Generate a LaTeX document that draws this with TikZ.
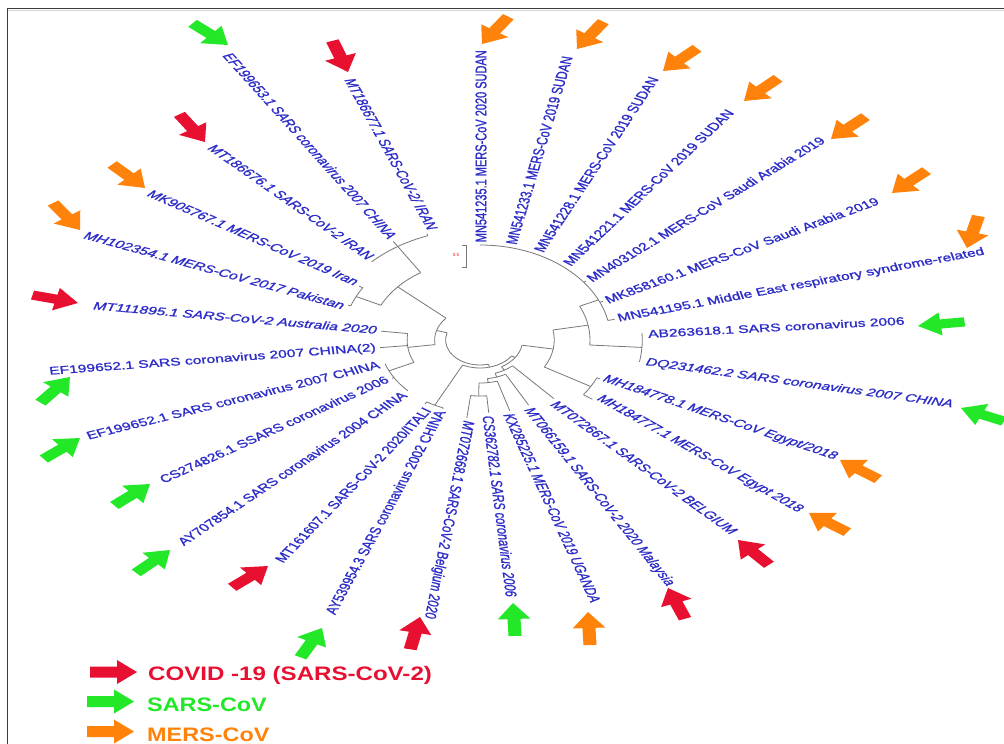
\documentclass[tikz,border=0pt]{standalone}
\usepackage{fontspec}
\setmainfont{Liberation Sans}
\newfontfamily\labfont[FakeBold=1.2]{Liberation Sans}
\definecolor{labblue}{RGB}{45,45,200}
\definecolor{ared}{RGB}{232,16,48}
\definecolor{agreen}{RGB}{34,232,40}
\definecolor{aorange}{RGB}{255,130,10}
\definecolor{brgray}{RGB}{120,120,120}
\definecolor{frame}{RGB}{60,60,60}
% block arrow, drawn with the same horizontal stretch as the picture:
% colour, tail x, tail y, tip x, tip y (pixel coordinates, y down)
\newcommand\barrow[5]{%
  \pgfmathsetmacro\bdx{((#4)-(#2))/1.42}%
  \pgfmathsetmacro\bdy{(#3)-(#5)}%
  \pgfmathsetmacro\bang{atan2(\bdy,\bdx)}%
  \fill[#1, shift={(#4,-#5)}, xscale=1.42, rotate=\bang] (0,0) -- (-16,11.5) -- (-16,4.6) -- (-33,4.6) -- (-33,-4.6) -- (-16,-4.6) -- (-16,-11.5) -- cycle;}
% radial branch: name, angle, inner radius, outer radius
\newcommand\tbranch[4]{\coordinate (#1-a) at (#2:#3); \coordinate (#1-b) at (#2:#4); \draw[br] (#1-a) -- (#1-b);}
% arc of a clade: name, start angle, end angle, radius
\newcommand\tarc[4]{\coordinate (#1) at (#2:#4); \draw[br] (#1) arc[start angle=#2, end angle=#3, radius=#4];}
\begin{document}
\begin{tikzpicture}[x=1pt,y=1pt,
  br/.style={draw=brgray, line width=0.8pt},
  lab/.style={text=labblue, inner sep=0.6pt, xscale=1.42, font=\labfont\fontsize{11}{13}\selectfont},
  labi/.style={text=labblue, inner sep=0.6pt, xscale=1.42, font=\labfont\fontsize{11}{13}\selectfont\itshape},
  legtext/.style={anchor=west, inner sep=0pt, font=\fontsize{19.5}{22}\selectfont\bfseries}]
\useasboundingbox (0,0) rectangle (1004,-744);
\fill[white] (0,0) rectangle (1004,-744);
% frame
\draw[frame, line width=1.5pt] (7.5,-744) -- (7.5,-8.5) -- (1004,-8.5);
\draw[gray!35, line width=0.8pt] (8.3,-10.3) -- (1004,-10.3);

\begin{scope}[shift={(480,-340)}, xscale=1.375]
  % root and inner clades
  \tarc{root}{163.2}{284.3}{25}
  \tbranch{n1}{163.2}{25}{33}
  \tarc{n1arc}{138.4}{188}{33}
  \tbranch{n3}{284.3}{25}{28}
  \tarc{n3arc}{243.25}{325.4}{28}
  \tbranch{n2}{325.4}{28}{31}
  \tarc{n2arc}{300.4}{350.35}{31}
  % right clade
  \tbranch{y}{350.35}{31}{54}
  \tarc{yarc}{330}{370.7}{54}
  \tbranch{x}{10.7}{54}{80}
  \tarc{xarc}{-3.6}{25}{80}
  \tbranch{mers}{25}{80}{95}
  \tarc{mersarc}{11.9}{90}{95}
  \tbranch{t4}{37.4}{95}{97}
  \tbranch{t5}{23.4}{95}{97.5}
  \tbranch{t6}{11.9}{95}{100}
  \tbranch{abdq}{-3.6}{80}{118}
  \tarc{abdqarc}{-10.7}{3.5}{118}
  \tbranch{mh}{-30}{54}{93}
  \tarc{mharc}{-36}{-24}{93}
  \tbranch{t9}{-24}{93}{95.5}
  \tbranch{t10}{-36}{93}{101}
  % bottom ladder
  \tbranch{p1}{-59.6}{31}{35}
  \tarc{p1arc}{-71.75}{-47.5}{35}
  \tbranch{t11}{-47.5}{35}{79.5}
  \tbranch{p2}{-71.75}{35}{39}
  \tarc{p2arc}{-82}{-61.5}{39}
  \tbranch{t12}{-61.5}{39}{74}
  \tbranch{p3}{-82}{39}{43}
  \tarc{p3arc}{-91}{-73}{43}
  \tbranch{t13}{-73}{43}{74}
  \tbranch{p4}{-91}{43}{56}
  \tarc{p4arc}{-97}{-85}{56}
  \tbranch{t14}{-85}{56}{73}
  \tbranch{t15}{-97}{56}{78.5}
  % AY539954 / MT161607 pair
  \tbranch{ay}{243.25}{28}{73}
  \tarc{ayarc}{238}{248.5}{73}
  \tbranch{t17}{238}{73}{75.5}
  \tbranch{t16}{248.5}{73}{74}
  % left clade
  \tbranch{l}{188}{33}{53}
  \tarc{larc}{173}{205}{53}
  \tbranch{t22}{173}{53}{72.5}
  \tbranch{t21}{186}{53}{73}
  \tbranch{tri}{205}{53}{73}
  \tarc{triarc}{199}{224}{73}
  \tbranch{t19}{211}{73}{74.5}
  % upper left clade
  \tbranch{ul}{138.4}{33}{80}
  \tarc{ularc}{122.6}{154.25}{80}
  \tbranch{pi}{154.25}{80}{100}
  \tarc{piarc}{148.5}{160}{100}
  \tbranch{t23}{160}{100}{102}
  \tbranch{t24}{148.5}{100}{103}
  \tbranch{tt}{122.6}{80}{111}
  \tarc{ttarc}{110}{135.2}{111}
  \tbranch{t26}{122.6}{111}{117}
  \tbranch{t27}{110}{111}{113}
\end{scope}

% labels, right half
\node[lab, anchor=west, rotate=90] (l0) at (481,-243) {MN541235.1 MERS-CoV 2020 SUDAN};
\node[lab, anchor=west, rotate=78.1] (l1) at (511,-245) {MN541233.1 MERS-CoV 2019 SUDAN};
\node[lab, anchor=west, rotate=64.9] (l2) at (538,-252) {MN541228.1 MERS-CoV 2019 SUDAN};
\node[lab, anchor=west, rotate=53.1] (l3) at (566,-265) {MN541221.1 MERS-CoV 2019 SUDAN};
\node[lab, anchor=west, rotate=40.5] (l4) at (588,-280) {MN403102.1 MERS-CoV Saudi Arabia 2019};
\node[lab, anchor=west, rotate=27.6] (l5) at (605,-300.7) {MK858160.1 MERS-CoV Saudi Arabia 2019};
\node[lab, anchor=west, rotate=14.6] (l6) at (617,-319) {MN541195.1 Middle East respiratory syndrome-related};
\node[lab, anchor=west, rotate=4.2] (l7) at (647,-334) {AB263618.1 SARS coronavirus 2006};
\node[labi, anchor=west, rotate=-11.1] (l8) at (645,-362) {DQ231462.2 SARS coronavirus 2007 CHINA};
\node[labi, anchor=west, rotate=-25.7] (l9) at (603,-378) {MH184778.1 MERS-CoV Egypt/2018};
\node[labi, anchor=west, rotate=-38.5] (l10) at (598,-397) {MH184777.1 MERS-CoV Egypt 2018};
\node[labi, anchor=west, rotate=-45.6] (l11) at (553,-402) {MT072667.1 SARS-CoV-2 BELGIUM};
\node[labi, anchor=west, rotate=-60.3] (l12) at (527,-408) {MT066159.1 SARS-CoV-2 2020 Malaysia};
\node[labi, anchor=west, rotate=-71.9] (l13) at (508,-413) {KX285225.1 MERS-CoV 2019 UGANDA};
\node[labi, anchor=west, rotate=-84.8] (l14) at (488,-415) {CS362782.1 SARS coronavirus 2006};
\node[labi, anchor=west, rotate=-97.9] (l15) at (468,-420) {MT072668.1 SARS-CoV-2 Belgium 2020};
% labels, left half
\node[lab, anchor=east, rotate=69] (l16) at (441,-410) {AY539954.3 SARS coronavirus 2002 CHINA};
\node[lab, anchor=east, rotate=55.5] (l17) at (428,-408) {MT161607.1 SARS-CoV-2 2020/ITALI};
\node[lab, anchor=east, rotate=43.5] (l18) at (405,-393) {AY707854.1 SARS coronavirus 2004 CHINA};
\node[lab, anchor=east, rotate=32.6] (l19) at (388,-378) {CS274826.1 SSARS coronavirus 2006};
\node[lab, anchor=east, rotate=19.2] (l20) at (380,-364) {EF199652.1 SARS coronavirus 2007 CHINA};
\node[lab, anchor=east, rotate=5.9] (l21) at (377,-348) {EF199652.1 SARS coronavirus 2007 CHINA(2)};
\node[labi, anchor=east, rotate=-7] (l22) at (378,-330) {MT111895.1 SARS-CoV-2 Australia 2020};
\node[labi, anchor=east, rotate=-21.3] (l23) at (345,-306) {MH102354.1 MERS-CoV 2017 Pakistan};
\node[labi, anchor=east, rotate=-31.6] (l24) at (358,-283) {MK905767.1 MERS-CoV 2019 Iran};
\node[labi, anchor=east, rotate=-44.7] (l25) at (371.7,-258.3) {MT186676.1 SARS-CoV-2 IRAN};
\node[labi, anchor=east, rotate=-57.6] (l26) at (393.3,-238.3) {EF199653.1 SARS coronavirus 2007 CHINA};
\node[labi, anchor=east, rotate=-68.7] (l27) at (433.3,-230) {MT186677.1 SARS-CoV-2/ IRAN};

% scale bar
\draw[brgray, line width=0.8pt] (462,-245) -- (466,-245) -- (466,-267) -- (462,-267);
\node[text=ared, inner sep=0pt, font=\fontsize{4.5}{5}\selectfont] (scale) at (456,-255) {0.5};

% pointer arrows
\barrow{aorange}{508}{17}{482}{44}
\barrow{aorange}{603}{22}{577}{49}
\barrow{aorange}{696}{49}{663}{71}
\barrow{aorange}{777}{79}{744}{101}
\barrow{aorange}{865}{117}{831}{139}
\barrow{aorange}{926}{171}{892}{193}
\barrow{aorange}{977}{220}{967}{248}
\barrow{agreen}{963}{322}{918}{326}
\barrow{agreen}{1003}{421}{961}{408}
\barrow{aorange}{880}{480}{840}{460}
\barrow{aorange}{847}{532}{809}{513}
\barrow{ared}{768}{564}{738}{540}
\barrow{ared}{683}{615}{668}{588}
\barrow{aorange}{590}{645}{588}{612}
\barrow{agreen}{515}{635}{513}{603}
\barrow{ared}{410}{650}{420}{617}
\barrow{agreen}{300}{658}{322}{628}
\barrow{ared}{236}{585}{268}{566}
\barrow{agreen}{133}{575}{170}{550}
\barrow{agreen}{115}{505}{150}{484}
\barrow{agreen}{42}{460}{80}{438}
\barrow{agreen}{40}{403}{70}{377}
\barrow{ared}{32}{295}{78}{303}
\barrow{aorange}{55}{205}{80}{230}
\barrow{aorange}{117}{168}{145}{188}
\barrow{ared}{180}{115}{205}{142}
\barrow{agreen}{192}{23}{228}{45}
\barrow{ared}{332}{40}{348}{72}

% legend
\fill[ared] (137,-672) -- (117,-660) -- (117,-666.5) -- (90,-666.5) -- (90,-677.5) -- (117,-677.5) -- (117,-684) -- cycle;
\fill[agreen] (134,-701.5) -- (114,-689.5) -- (114,-696) -- (87,-696) -- (87,-707) -- (114,-707) -- (114,-713.5) -- cycle;
\fill[aorange] (134,-731.5) -- (114,-719.5) -- (114,-726) -- (87,-726) -- (87,-737) -- (114,-737) -- (114,-743.5) -- cycle;
\node[legtext, text=ared, xscale=1.235] (leg1) at (148,-675) {COVID -19 (SARS-CoV-2)};
\node[legtext, text=agreen, xscale=1.2] (leg2) at (147,-705) {SARS-CoV};
\node[legtext, text=aorange, xscale=1.2] (leg3) at (147,-735) {MERS-CoV};
\end{tikzpicture}
\end{document}
